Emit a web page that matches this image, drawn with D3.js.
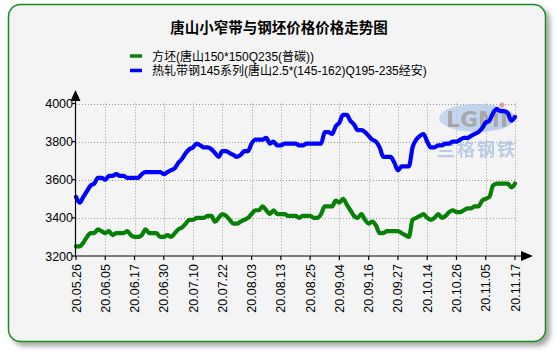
<!DOCTYPE html>
<html>
<head>
<meta charset="utf-8">
<script src="https://cdn.jsdelivr.net/npm/d3@7"></script>
<style>
  html, body { margin: 0; padding: 0; background: #fff; }
  svg { display: block; font-family: "Liberation Sans", Arial, "Noto Sans CJK SC", sans-serif; }
</style>
</head>
<body>
<div id="chart"></div>
<script>
// 唐山小窄带与钢坯价格走势 - one point per trading day, 20.05.26 .. 20.11.17

const tickLabels = ['20.05.26', '20.06.05', '20.06.17', '20.06.30', '20.07.10', '20.07.22', '20.08.03', '20.08.13',
  '20.08.25', '20.09.04', '20.09.16', '20.09.27', '20.10.14', '20.10.26', '20.11.05', '20.11.17'];
const tickEvery = 8; // a labelled tick every 8 trading days

const seriesNames = ['方坯(唐山150*150Q235(普碳))', '热轧带钢145系列(唐山2.5*(145-162)Q195-235经安)'];
const seriesColors = ['#078007', '#0000ff'];

// 方坯
const billet = [
  3250, 3250, 3270, 3300, 3320, 3320, 3340, 3330, 3320, 3330,
  3310, 3320, 3320, 3320, 3330, 3310, 3300, 3300, 3310, 3340,
  3320, 3320, 3320, 3300, 3300, 3310, 3300, 3320, 3340, 3350,
  3370, 3390, 3390, 3400, 3400, 3400, 3410, 3410, 3380, 3400,
  3420, 3410, 3390, 3370, 3370, 3380, 3390, 3400, 3420, 3440,
  3440, 3460, 3440, 3420, 3440, 3420, 3420, 3420, 3410, 3410,
  3410, 3400, 3410, 3410, 3410, 3400, 3400, 3420, 3460, 3460,
  3460, 3490, 3480, 3500, 3470, 3440, 3410, 3400, 3420, 3390,
  3370, 3380, 3360, 3320, 3320, 3330, 3330, 3330, 3330, 3320,
  3310, 3300, 3390, 3400, 3410, 3420, 3400, 3390, 3400, 3420,
  3400, 3410, 3430, 3440, 3430, 3430, 3440, 3450, 3450, 3460,
  3460, 3490, 3500, 3510, 3570, 3580, 3580, 3580, 3580, 3560,
  3580
];

// 热轧带钢145系列
const strip = [
  3510, 3480, 3510, 3540, 3570, 3580, 3610, 3610, 3600, 3620,
  3620, 3630, 3620, 3620, 3610, 3610, 3610, 3610, 3630, 3640,
  3640, 3640, 3640, 3640, 3630, 3640, 3650, 3660, 3690, 3710,
  3740, 3760, 3770, 3790, 3780, 3770, 3770, 3760, 3740, 3720,
  3750, 3750, 3740, 3730, 3720, 3730, 3750, 3750, 3790, 3810,
  3810, 3810, 3820, 3790, 3800, 3780, 3780, 3790, 3790, 3790,
  3790, 3780, 3780, 3790, 3790, 3790, 3790, 3790, 3850, 3850,
  3840, 3880, 3900, 3940, 3940, 3910, 3890, 3860, 3860, 3850,
  3830, 3810, 3800, 3770, 3720, 3720, 3720, 3690, 3650, 3670,
  3670, 3670, 3770, 3810, 3830, 3840, 3800, 3770, 3770, 3780,
  3780, 3790, 3790, 3800, 3800, 3810, 3820, 3820, 3830, 3840,
  3850, 3870, 3900, 3910, 3950, 3970, 3960, 3960, 3950, 3910,
  3930
];

const yTicks = [3200, 3400, 3600, 3800, 4000];

const width = 557, height = 351;
const svg = d3.select('#chart').append('svg')
  .attr('width', width)
  .attr('height', height);

// panel shadow
const defs = svg.append('defs');
const shadow = defs.append('filter').attr('id', 'shadow')
  .attr('x', '-5%').attr('y', '-5%').attr('width', '115%').attr('height', '115%');
shadow.append('feDropShadow')
  .attr('dx', 4).attr('dy', 4).attr('stdDeviation', 2.5)
  .attr('flood-color', '#000').attr('flood-opacity', 0.35);

svg.append('rect')
  .attr('x', 8.5).attr('y', 4.5)
  .attr('width', 537).attr('height', 337)
  .attr('rx', 12).attr('ry', 12)
  .attr('fill', '#f4f4f4')
  .attr('stroke', '#1f8a1f')
  .attr('stroke-width', 1.5)
  .attr('filter', 'url(#shadow)');

// title
svg.append('text')
  .attr('x', 279).attr('y', 33)
  .attr('text-anchor', 'middle')
  .style('font-family', '"Noto Sans CJK SC", sans-serif')
  .style('font-weight', 'bold')
  .style('font-size', '14.5px')
  .attr('fill', '#000')
  .text('唐山小窄带与钢坯价格价格走势图');

// legend
const legend = svg.append('g');
seriesNames.forEach((name, i) => {
  const y = 56 + i * 14.5;
  legend.append('line')
    .attr('x1', 130).attr('x2', 142)
    .attr('y1', y).attr('y2', y)
    .attr('stroke', seriesColors[i])
    .attr('stroke-width', 3.5);
  legend.append('text')
    .attr('x', 152).attr('y', y + 4.5)
    .style('font-size', '12px')
    .style('font-family', '"Liberation Sans", Arial, "Noto Sans CJK SC", sans-serif')
    .attr('fill', '#000')
    .text(name);
});

// scales
const x = d3.scaleLinear()
  .domain([0, (tickLabels.length - 1) * tickEvery])
  .range([76, 515]);
const y = d3.scaleLinear()
  .domain([3200, 4000])
  .range([256, 103.5]);

const tickIdx = tickLabels.map((d, i) => i * tickEvery);

// grid
const grid = svg.append('g')
  .attr('stroke', '#9a9a9a')
  .attr('stroke-width', 1)
  .attr('stroke-dasharray', '1,2');
grid.selectAll('.hg').data(yTicks.slice(1)).enter().append('line')
  .attr('x1', x(0)).attr('x2', x(120))
  .attr('y1', d => Math.round(y(d)) + 0.5).attr('y2', d => Math.round(y(d)) + 0.5);
grid.selectAll('.vg').data(tickIdx.slice(1)).enter().append('line')
  .attr('x1', d => Math.round(x(d)) + 0.5).attr('x2', d => Math.round(x(d)) + 0.5)
  .attr('y1', y(4000)).attr('y2', y(3200));

// watermark (LGMI logo)
const wm = svg.append('g').attr('opacity', 0.75);
const wg = defs.append('linearGradient').attr('id', 'wmgrad')
  .attr('x1', '0%').attr('x2', '100%').attr('y1', '0%').attr('y2', '0%');
wg.append('stop').attr('offset', '0%').attr('stop-color', '#b8cfee');
wg.append('stop').attr('offset', '100%').attr('stop-color', '#a6c1e8');
wm.append('ellipse')
  .attr('cx', 477).attr('cy', 118).attr('rx', 38).attr('ry', 14)
  .attr('fill', 'url(#wmgrad)');
wm.append('text')
  .attr('x', 477).attr('y', 127)
  .attr('text-anchor', 'middle')
  .style('font-family', '"DejaVu Sans", sans-serif')
  .style('font-weight', 'bold')
  .style('font-size', '22px')
  .attr('fill', '#8f8f8f')
  .text('LGMI');
wm.append('circle').attr('cx', 502).attr('cy', 105).attr('r', 2.5).attr('fill', '#f08080');
wm.append('text')
  .attr('x', 477).attr('y', 156)
  .attr('text-anchor', 'middle')
  .style('font-family', '"Noto Sans CJK SC", sans-serif')
  .style('font-weight', 'bold')
  .style('font-size', '18px')
  .style('letter-spacing', '2px')
  .attr('fill', '#a9c0e0')
  .text('兰格钢铁');

// lines
const line = d3.line()
  .x((d, i) => x(i))
  .y(d => y(d))
  .curve(d3.curveMonotoneX);

[billet, strip].forEach((data, i) => {
  svg.append('path')
    .datum(data)
    .attr('d', line)
    .attr('fill', 'none')
    .attr('stroke', seriesColors[i])
    .attr('stroke-width', 4.2)
    .attr('stroke-linejoin', 'round')
    .attr('stroke-linecap', 'round');
});

// axes
const axes = svg.append('g').attr('stroke', '#000').attr('stroke-width', 1.2);
axes.append('line')
  .attr('x1', 75.5).attr('x2', 75.5)
  .attr('y1', y(3200)).attr('y2', 96);
axes.append('line')
  .attr('x1', 75.5).attr('x2', 525)
  .attr('y1', 256).attr('y2', 256);
svg.append('path')
  .attr('d', 'M75.5,90 L70.5,101 L80.5,101 Z')
  .attr('fill', '#000');
svg.append('path')
  .attr('d', 'M533,256 L521,251 L521,261 Z')
  .attr('fill', '#000');

// y ticks & labels
yTicks.forEach(v => {
  axes.append('line')
    .attr('x1', 72).attr('x2', 76)
    .attr('y1', y(v)).attr('y2', y(v));
  svg.append('text')
    .attr('x', 73).attr('y', y(v) + 4.5)
    .attr('text-anchor', 'end')
    .style('font-size', '12.5px')
    .attr('fill', '#000')
    .text(v);
});

// x ticks & labels
tickIdx.forEach((idx, i) => {
  axes.append('line')
    .attr('x1', x(idx)).attr('x2', x(idx))
    .attr('y1', 256).attr('y2', 260);
  svg.append('text')
    .attr('transform', `translate(${x(idx) + 4.5},264) rotate(-90)`)
    .attr('text-anchor', 'end')
    .style('font-size', '12.5px')
    .attr('fill', '#000')
    .text(tickLabels[i]);
});
</script>
</body>
</html>
